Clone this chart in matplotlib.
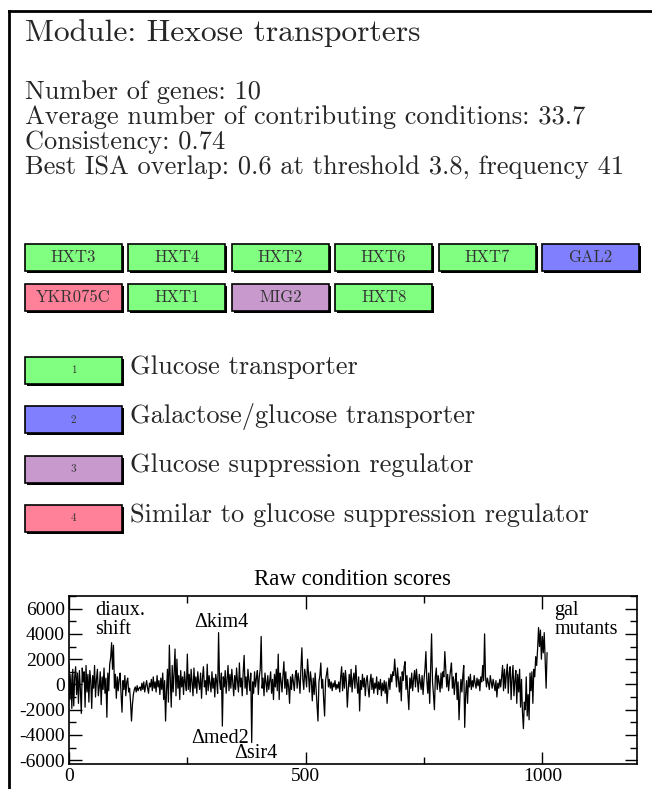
import numpy as np
import matplotlib
matplotlib.use("Agg")
import matplotlib.pyplot as plt
from matplotlib.patches import Rectangle
from matplotlib.ticker import MultipleLocator

plt.rcParams['axes.unicode_minus'] = False

TITLE = "Module: Hexose transporters"
STATS = [
    "Number of genes: 10",
    "Average number of contributing conditions: 33.7",
    "Consistency: 0.74",
    "Best ISA overlap: 0.6 at threshold 3.8, frequency 41",
]

GENES = ["HXT3", "HXT4", "HXT2", "HXT6", "HXT7", "GAL2",
         "YKR075C", "HXT1", "MIG2", "HXT8"]
GENE_CLASS = [1, 1, 1, 1, 1, 2, 4, 1, 3, 1]

CLASS_NAMES = ["Glucose transporter",
               "Galactose/glucose transporter",
               "Glucose suppression regulator",
               "Similar to glucose suppression regulator"]
CLASS_COLORS = ["#80ff80", "#8080ff", "#c899cc", "#ff8099"]

# raw condition scores, every 2nd condition (0..1010)
scores = [
    1600, -1200, 800, -1900, 1200, -1700, 600, 1400, -800, 900, -1500, 1100, -400,
    -2300, 1300, 200, 1000, -1800, 1500, -600, 800, -1400, 1100, 300, -1900,
    700, -300, 1500, -1000, 400, 1200, -900, -200, 1000, -1600, 600, -400, 1300,
    -700, 500, -2600, 900, -500, 1600, 2100, 3300, 1200, 3100, -300, 800,
    -1100, 600, -500, 400, 900, -800, -2200, 300, -400, 700, -900, 200, 500,
    -600, -300, -1400, -2900, -1600, -800, -400, -200, -600, -100, -500, -300,
    -200, -500, 100, -400, 200, -600, -100, 300, -300, -700, 100, -200, 400,
    -500, 600, -300, 200, -600, 700, -200, 300, -800, 500, -400, 900,
    -1200, 300, -2900, -500, 1200, -1400, 3100, 400, -1800, 1500, -600, 900, 2800,
    -900, 2000, -300, 700, -1200, 1100, -200, 600, -800, 1000, 100, -500,
    2400, -400, 800, -600, 1200, 200, -900, 1300, -300, 600, -700, 1000, 200,
    -400, 900, -1100, 500, 1400, -200, 300, -800, 1600, -500, 700, 100,
    -600, 1000, -300, 500, -1000, 800, 200, -700, 4100, 300, -400, 900, -3300,
    600, -200, 1100, -700, 400, 1500, -500, 800, -300, 1200, 100, -900,
    700, -400, 1300, 200, -600, 1700, -200, 500, -900, 1000, 2300, -300, 600,
    -800, 1200, 300, -500, 900, -4600, 200, -700, 1000, -200, 500, 1100,
    -800, 600, 1200, 3800, -300, 500, -900, 900, 200, -600, 700, -400, 300,
    1000, -700, 400, -1200, 800, -200, 1200, -500, 2400, -1200, 900, 300,
    -600, 700, 1800, -300, 1000, -800, 400, -200, -1500, 600, -400, 800, 200,
    -500, 700, 1100, -300, 900, 300, -700, 1300, 2900, 400, -400, 1200,
    600, -200, 2000, 800, -600, 1000, 300, -1300, 500, -800, 900, -400, -1600,
    -2900, 200, 700, 1700, -300, 400, -1200, -2500, 300, 800, 1300, -200,
    400, -300, 200, -500, 100, -200, 300, -400, 0, -300, 200, -600, 600,
    1400, -500, 900, -300, 1100, 200, -1800, -400, 800, -200, 1200, -600,
    400, 900, -300, 1500, 200, -700, 600, -2100, 300, -400, 800, -200, 500,
    -900, 300, 700, -300, -1000, 200, 800, -400, 500, -700, 100, -300,
    600, -800, 200, -400, 400, -900, 100, -500, 300, -700, 200, -1500, -300,
    500, -400, 800, 200, 1000, 700, 2000, 900, -200, 1300, 400, -600,
    600, -1300, 1000, 300, 1400, 1800, -400, 700, -800, -2000, 500, -300, 900,
    -500, 400, 1100, -200, 1200, 300, -600, 800, 200, -400, 700, -800,
    400, 1200, 2600, 300, -700, 900, -1500, 1100, 4000, 200, -800, -2000, 600,
    1300, -400, 700, 200, -600, 900, -300, 1000, 600, 2600, 1200, -200,
    800, -500, 400, 1100, 1700, -300, 600, -800, 300, 900, -1200, 200, -2800,
    -900, 400, -600, 700, 1500, -3400, -800, 300, -1500, 600, -200, 800,
    -400, 300, -200, 700, 100, -300, 500, -100, 400, -500, 600, 200, 1500,
    300, 4000, 600, -200, 500, 100, -400, 700, 200, -300, 400, 0,
    -500, 300, -1000, 100, -300, 400, -200, 600, 1500, -500, 1200, -300, 800,
    1600, -700, 900, 1400, -1200, 500, 1500, -900, 300, 1100, -1500, 800,
    -600, 1200, -1800, 400, -2200, -3500, -1400, -2000, 600, -2500, -800, -2800,
    900, -500, 1000, -1500, 1200, 600, 2200, 1500, 2800, 4500, 3000, 4300,
    2000, 3800, 2500, 4100, 1800, -300, 2500,
]
conditions = np.arange(len(scores)) * 2

ANNOTATIONS = [
    ("diaux.\nshift", 55, 6600, "top"),
    ("\u0394kim4", 265, 4900, "center"),
    ("\u0394med2", 258, -4300, "center"),
    ("\u0394sir4", 349, -5500, "center"),
    ("gal\nmutants", 1025, 6600, "top"),
]

W, H = 652, 789
fig = plt.figure(figsize=(W / 100, H / 100), dpi=100)

# page layer in pixel units
bg = fig.add_axes([0, 0, 1, 1])
bg.set_xlim(0, W)
bg.set_ylim(H, 0)
bg.axis("off")

bg.plot([9, W], [11, 11], color="black", lw=2)
bg.plot([9, 9], [11, H], color="black", lw=2)

cm = "cmr10"
ink = "#262626"
bg.text(25, 33, TITLE, fontfamily=cm, fontsize=22.7, va="center", ha="left",
        color=ink)
for i, line in enumerate(STATS):
    bg.text(25, 92 + i * 25, line, fontfamily=cm, fontsize=19,
            va="center", ha="left", color=ink)


def draw_box(x, y, w, h, color, label, fs):
    bg.add_patch(Rectangle((x + 2, y + 2), w, h, facecolor="black",
                           edgecolor="none", zorder=2))
    bg.add_patch(Rectangle((x, y), w, h, facecolor=color,
                           edgecolor="black", lw=1.2, zorder=3))
    bg.text(x + w / 2, y + h / 2, label, fontfamily=cm, fontsize=fs,
            ha="center", va="center", color="#333333", zorder=4)


box_w, box_h, pitch = 97, 27, 103.4
for i, (gene, cls) in enumerate(zip(GENES, GENE_CLASS)):
    row, col = divmod(i, 6)
    draw_box(25 + col * pitch, 244 + row * 39.5, box_w, box_h,
             CLASS_COLORS[cls - 1], gene, 12)

for i, (name, color) in enumerate(zip(CLASS_NAMES, CLASS_COLORS)):
    y = 357 + i * 49.3
    draw_box(25, y, box_w, box_h, color, str(i + 1), 8)
    bg.text(130, y + 10, name, fontfamily=cm, fontsize=19,
            va="center", ha="left", color=ink)

# raw condition scores plot
ax = fig.add_axes([69 / W, 1 - 764 / H, 568 / W, 168 / H])
ax.plot(conditions, scores, color="black", lw=0.9)
ax.set_xlim(0, 1200)
ax.set_ylim(-6300, 7000)
ax.xaxis.set_major_locator(MultipleLocator(500))
ax.xaxis.set_minor_locator(MultipleLocator(250))
ax.yaxis.set_minor_locator(MultipleLocator(1000))
ax.set_yticks(np.arange(-6000, 6001, 2000))
ax.tick_params(which="both", direction="in", top=True, right=True,
               width=1)
ax.tick_params(which="major", length=9, labelsize=14, pad=3)
ax.tick_params(which="minor", length=5)
for lab in ax.get_xticklabels() + ax.get_yticklabels():
    lab.set_fontfamily("Liberation Serif")
for s in ax.spines.values():
    s.set_linewidth(1.2)
ax.set_title("Raw condition scores", fontfamily="Liberation Serif",
             fontsize=16.5, pad=8)
for text, x, y, va in ANNOTATIONS:
    ax.text(x, y, text, fontfamily="Liberation Serif", fontsize=14.5,
            ha="left", va=va, linespacing=1.0)

fig.savefig("out.png", dpi=100)
